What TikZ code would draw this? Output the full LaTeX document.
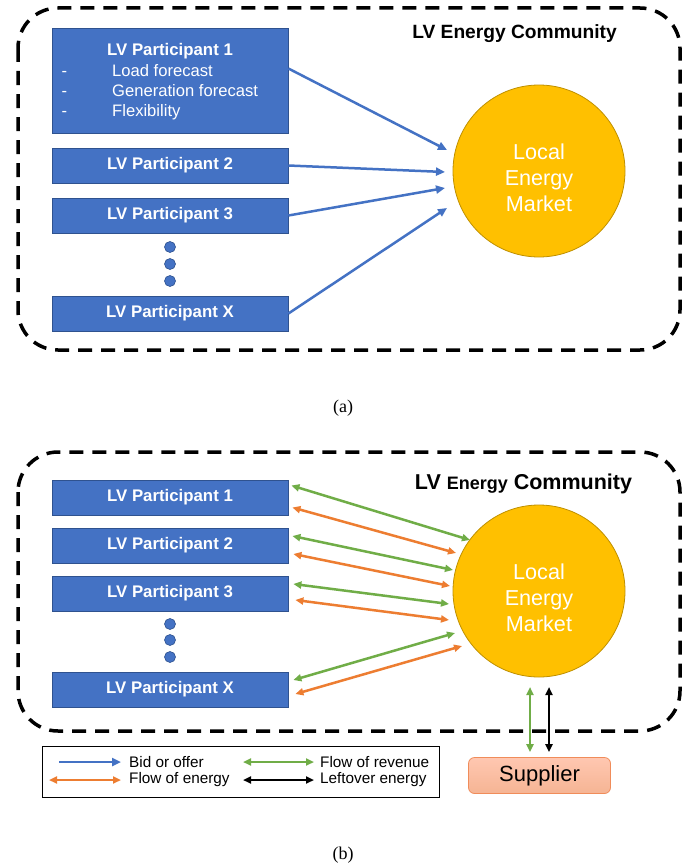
\documentclass[tikz,border=0pt]{standalone}
\usepackage{fontspec}
\setmainfont{Liberation Serif}
\newfontfamily\arial{Liberation Sans}
\usetikzlibrary{arrows.meta}
\definecolor{pblue}{HTML}{4472C4}
\definecolor{pborder}{HTML}{2F528F}
\definecolor{gold}{HTML}{FFC000}
\definecolor{goldb}{HTML}{BF9000}
\definecolor{agreen}{HTML}{70AD47}
\definecolor{aorange}{HTML}{ED7D31}
\definecolor{supb}{HTML}{F08C5A}
\begin{document}
\begin{tikzpicture}[x=1pt,y=-1pt,
  part/.style={draw=pborder, line width=0.8pt, fill=pblue, minimum width=236pt, minimum height=35pt, inner sep=0pt, text=white, font=\arial\bfseries\fontsize{16.8}{19}\selectfont},
  wtext/.style={text=white, inner sep=0pt, anchor=base, font=\arial\fontsize{16.6}{19}\selectfont},
  dotn/.style={circle, draw=pborder, fill=pblue, minimum size=11pt, inner sep=0pt, line width=0.6pt},
  market/.style={circle, draw=goldb, fill=gold, minimum size=172pt, inner sep=0pt, line width=0.8pt},
  mtext/.style={text=white, inner sep=0pt, align=center, font=\arial\fontsize{21.6}{26}\selectfont},
  community/.style={draw, dash pattern=on 14pt off 9pt, line width=3.5pt, rounded corners=40pt},
  ctitle/.style={inner sep=0pt, anchor=base, font=\arial\bfseries\fontsize{19.2}{22}\selectfont},
  bid/.style={pblue, line width=2.5pt, -{Triangle[length=9pt,width=8pt]}},
  rev/.style={agreen, line width=2.5pt, {Triangle[length=8pt,width=7pt]}-{Triangle[length=8pt,width=7pt]}},
  ene/.style={aorange, line width=2.5pt, {Triangle[length=8pt,width=7pt]}-{Triangle[length=8pt,width=7pt]}},
  lft/.style={black, line width=2.5pt, {Triangle[length=8pt,width=7pt]}-{Triangle[length=8pt,width=7pt]}},
  legtext/.style={anchor=west, inner sep=0pt, font=\arial\fontsize{15.3}{17}\selectfont},
  caption/.style={inner sep=0pt, font=\fontsize{18}{20}\selectfont}
]
\fill[white] (0,0) rectangle (694,867);
\useasboundingbox (0,0) rectangle (694,867);

% ---------------- (a) ----------------
\draw[community] (18,8) rectangle (680,350);
\node[ctitle] (ta) at (514.5,39) {LV Energy Community};

\node[part, minimum height=105pt] (a1) at (170,80.5) {};
\node[wtext, font=\arial\bfseries\fontsize{16.8}{19}\selectfont] (a1t) at (170,56) {LV Participant 1};
\node[wtext] (a1d1) at (64.5,77) {-};
\node[wtext] (a1d2) at (64.5,96.5) {-};
\node[wtext] (a1d3) at (64.5,116.5) {-};
\node[wtext, anchor=base west] (a1i1) at (112,77) {Load forecast};
\node[wtext, anchor=base west] (a1i2) at (112,96.5) {Generation forecast};
\node[wtext, anchor=base west] (a1i3) at (112,116.5) {Flexibility};
\node[part] (a2) at (170,165.5) {LV Participant 2};
\node[part] (a3) at (170,215.5) {LV Participant 3};
\node[dotn] (ad1) at (170,247) {};
\node[dotn] (ad2) at (170,264) {};
\node[dotn] (ad3) at (170,281) {};
\node[part] (ax) at (170,313.5) {LV Participant X};

\node[market] (ma) at (539,171) {};
\node[mtext] (mat) at (539,178) {Local\\Energy\\Market};

\coordinate (ea1) at (447,150);
\coordinate (ea2) at (445,172);
\coordinate (ea3) at (445,188);
\coordinate (eax) at (447,208);
\draw[bid] ([yshift=12pt]a1.east) -- (ea1);
\draw[bid] (a2.east) -- (ea2);
\draw[bid] (a3.east) -- (ea3);
\draw[bid] (ax.east) -- (eax);

\node[caption] (capa) at (343,408) {(a)};

% ---------------- (b) ----------------
\draw[community] (18,452) rectangle (680,731);
\node[ctitle, font=\arial\bfseries\fontsize{21.5}{24}\selectfont] (tb) at (523.5,489) {LV {\fontsize{18}{20}\selectfont Energy} Community};

\node[part] (b1) at (170,497.5) {LV Participant 1};
\node[part] (b2) at (170,545.5) {LV Participant 2};
\node[part] (b3) at (170,593.5) {LV Participant 3};
\node[dotn] (bd1) at (170,624) {};
\node[dotn] (bd2) at (170,640) {};
\node[dotn] (bd3) at (170,657) {};
\node[part] (bx) at (170,689.5) {LV Participant X};

\node[market] (mb) at (539,591) {};
\node[mtext] (mbt) at (539,598) {Local\\Energy\\Market};

\coordinate (g1) at (470,540);
\coordinate (o1) at (456,553);
\coordinate (g2) at (453,570);
\coordinate (o2) at (450,586);
\coordinate (g3) at (449,604);
\coordinate (o3) at (449,620);
\coordinate (g4) at (455,633);
\coordinate (o4) at (462,646);
\draw[rev] ([xshift=3pt,yshift=12pt]b1.east) -- (g1);
\draw[ene] ([xshift=4pt,yshift=-10pt]b1.east) -- (o1);
\draw[rev] ([xshift=4pt,yshift=9.5pt]b2.east) -- (g2);
\draw[ene] ([xshift=5pt,yshift=-8.5pt]b2.east) -- (o2);
\draw[rev] ([xshift=5pt,yshift=9.5pt]b3.east) -- (g3);
\draw[ene] ([xshift=7pt,yshift=-6.5pt]b3.east) -- (o3);
\draw[rev] ([xshift=5pt,yshift=9.5pt]bx.east) -- (g4);
\draw[ene] ([xshift=7pt,yshift=-4.5pt]bx.east) -- (o4);

\node[draw=supb, line width=0.8pt, rounded corners=6pt, top color=orange!25!pink!70!white, bottom color=supb!65!white,
      minimum width=142pt, minimum height=36pt, inner sep=0pt, font=\arial\fontsize{22}{24}\selectfont] (sup) at (539.5,775.5) {Supplier};
\coordinate (gs1) at (530,687);
\coordinate (ks1) at (549,687);
\draw[rev, shorten >=5pt] (gs1) -- (gs1 |- sup.north);
\draw[lft, shorten >=5pt] (ks1) -- (ks1 |- sup.north);

% legend
\node[draw, line width=0.8pt, minimum width=397pt, minimum height=51pt, inner sep=0pt] (leg) at (240.5,771.5) {};
\coordinate (l1a) at (59,762);  \coordinate (l1b) at (121,762);
\coordinate (l2a) at (49,780);  \coordinate (l2b) at (121,780);
\coordinate (l3a) at (243,762); \coordinate (l3b) at (314,762);
\coordinate (l4a) at (243,780); \coordinate (l4b) at (314,780);
\draw[bid] (l1a) -- (l1b);
\draw[ene] (l2a) -- (l2b);
\draw[rev] (l3a) -- (l3b);
\draw[lft] (l4a) -- (l4b);
\node[legtext] (lt1) at (129,762) {Bid or offer};
\node[legtext] (lt2) at (129,780) {Flow of energy};
\node[legtext] (lt3) at (320,762) {Flow of revenue};
\node[legtext] (lt4) at (320,780) {Leftover energy};

\node[caption] (capb) at (343,855) {(b)};
\end{tikzpicture}
\end{document}
